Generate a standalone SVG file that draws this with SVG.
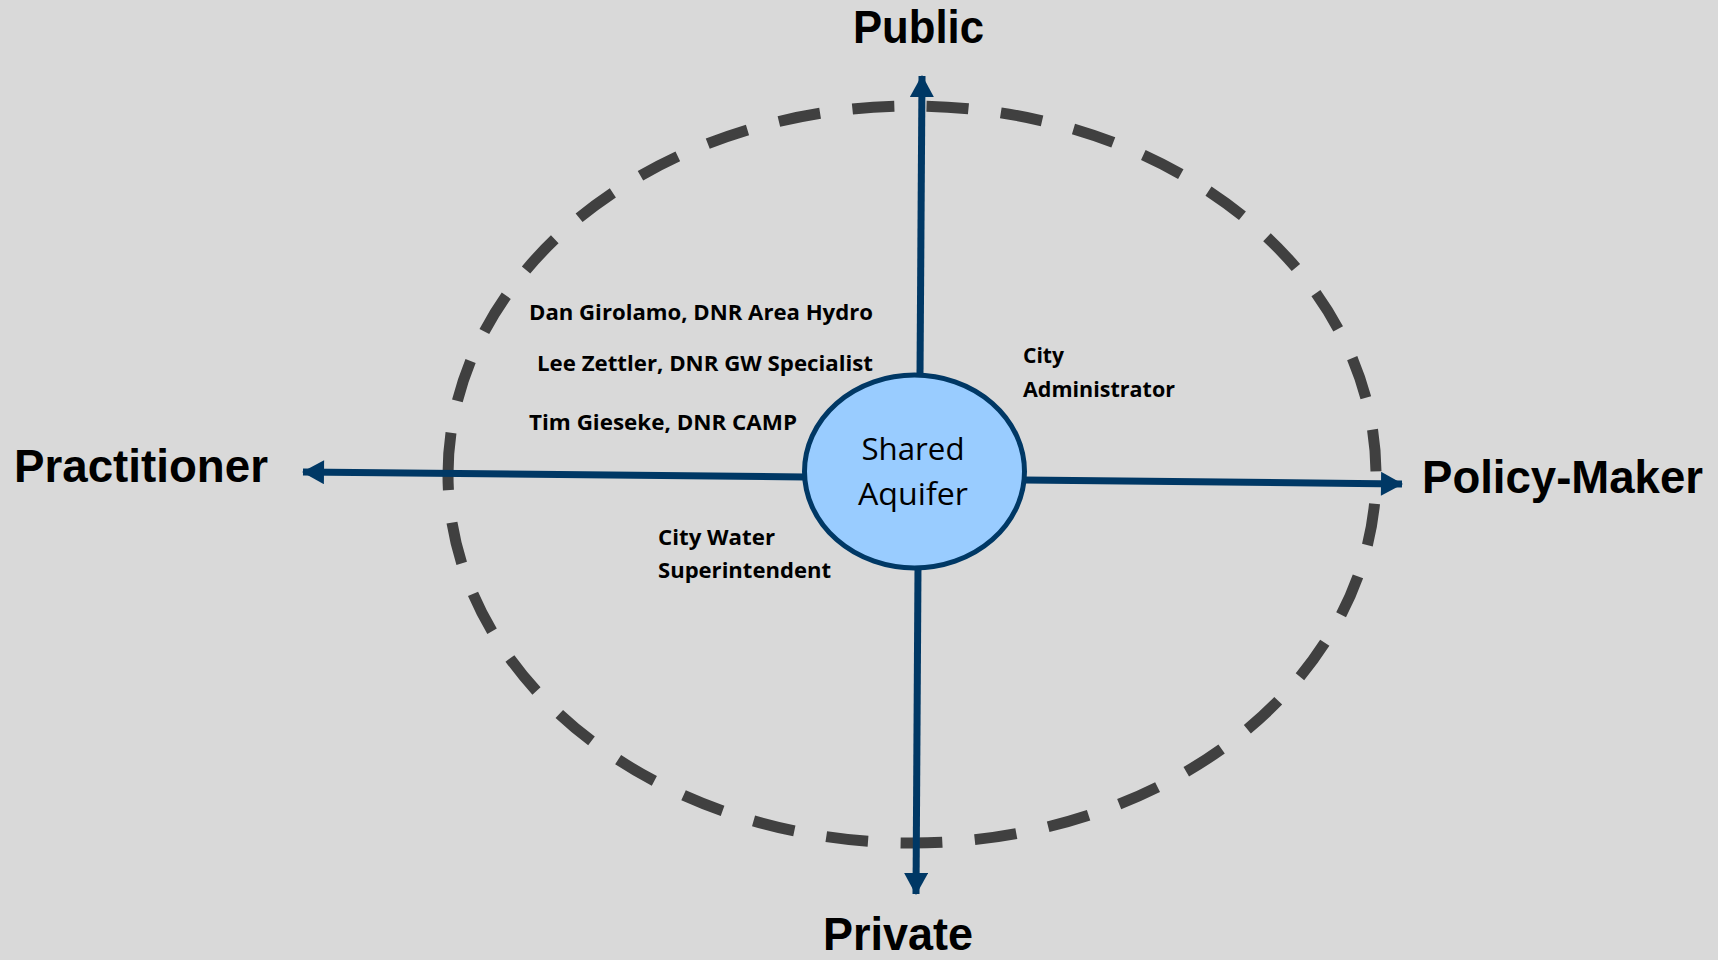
<svg xmlns="http://www.w3.org/2000/svg" width="1718" height="960" viewBox="0 0 1718 960">
<defs>
<style>
.axis{font-family:"Liberation Sans","Open Sans",sans-serif;font-weight:bold;font-size:46px;fill:#000}
.lbl{font-family:"Open Sans","Liberation Sans",sans-serif;font-weight:bold;font-size:21px;fill:#000}
.ctr{font-family:"Open Sans","Liberation Sans",sans-serif;font-size:31px;fill:#000}
.arr{stroke:#003865;stroke-width:7;fill:none}
</style>
<marker id="ah" markerUnits="userSpaceOnUse" markerWidth="24" markerHeight="24" viewBox="0 0 22 24" refX="21" refY="12" orient="auto">
<path d="M0,0 L22,12 L0,24 Z" fill="#003865"/>
</marker>
</defs>
<rect width="1718" height="960" fill="#D9D9D9"/>
<g id="boundary">
<path d="M448,474.5 A464,368.5 0 0 1 1376,474.5 A464,368.5 0 0 1 448,474.5 Z" fill="none" stroke="#404040" stroke-width="11" stroke-dasharray="42 32.5"/>
</g>
<g id="connectors">
<line class="arr" x1="920" y1="375" x2="922" y2="76" marker-end="url(#ah)"/>
<line class="arr" x1="918" y1="567" x2="916" y2="894" marker-end="url(#ah)"/>
<line class="arr" x1="805" y1="477" x2="303" y2="472" marker-end="url(#ah)"/>
<line class="arr" x1="1024" y1="480" x2="1402" y2="484" marker-end="url(#ah)"/>
</g>
<g id="shared-aquifer">
<ellipse cx="914.5" cy="471.5" rx="110" ry="96.5" fill="#99CCFF" stroke="#003865" stroke-width="5"/>
<text class="ctr" x="913" y="460" text-anchor="middle" textLength="103" lengthAdjust="spacingAndGlyphs">Shared</text>
<text class="ctr" x="913" y="505" text-anchor="middle" textLength="110" lengthAdjust="spacingAndGlyphs">Aquifer</text>
</g>
<g id="public"><text class="axis" x="853" y="43" textLength="131" lengthAdjust="spacingAndGlyphs">Public</text></g>
<g id="private"><text class="axis" x="823" y="950" font-size="45" textLength="150" lengthAdjust="spacingAndGlyphs">Private</text></g>
<g id="practitioner"><text class="axis" x="14" y="482" textLength="254" lengthAdjust="spacingAndGlyphs">Practitioner</text></g>
<g id="policy-maker"><text class="axis" x="1422" y="493" textLength="281" lengthAdjust="spacingAndGlyphs">Policy-Maker</text></g>
<g id="dan"><text class="lbl" x="529" y="320" textLength="344" lengthAdjust="spacingAndGlyphs">Dan Girolamo, DNR Area Hydro</text></g>
<g id="lee"><text class="lbl" x="537" y="371" textLength="336" lengthAdjust="spacingAndGlyphs">Lee Zettler, DNR GW Specialist</text></g>
<g id="tim"><text class="lbl" x="529" y="430" textLength="268" lengthAdjust="spacingAndGlyphs">Tim Gieseke, DNR CAMP</text></g>
<g id="city-water">
<text class="lbl" x="658" y="545" textLength="117" lengthAdjust="spacingAndGlyphs">City Water</text>
<text class="lbl" x="658" y="578" textLength="173" lengthAdjust="spacingAndGlyphs">Superintendent</text>
</g>
<g id="city-admin">
<text class="lbl" x="1023" y="363" textLength="41" lengthAdjust="spacingAndGlyphs">City</text>
<text class="lbl" x="1023" y="397" textLength="152" lengthAdjust="spacingAndGlyphs">Administrator</text>
</g>
</svg>
